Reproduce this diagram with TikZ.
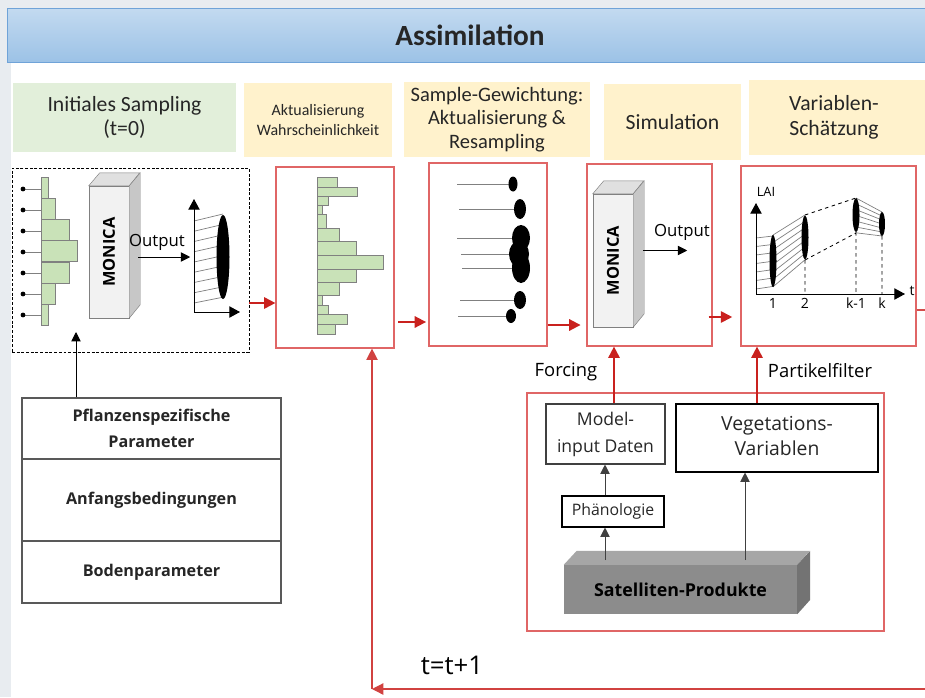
\documentclass[tikz,border=0pt]{standalone}
\usepackage{fontspec}
\setmainfont{Open Sans}
\newfontfamily\cali{Carlito}
\usetikzlibrary{arrows.meta,positioning,calc,fit}
\definecolor{hgrau}{HTML}{E8ECF0}
\definecolor{bandoben}{HTML}{C3DAF0}
\definecolor{bandunten}{HTML}{9CC2E6}
\definecolor{bandrand}{HTML}{6FA3D8}
\definecolor{kopfgruen}{HTML}{E2EFDA}
\definecolor{kopfgelb}{HTML}{FFF2CC}
\definecolor{histgruen}{HTML}{C9E2B8}
\definecolor{rahmenrot}{HTML}{E06666}
\definecolor{pfeilrot}{HTML}{C9211E}
\definecolor{strich}{HTML}{808080}
\newcommand{\fs}[2]{\fontsize{#1}{#2}\selectfont}
\tikzset{
  kopf/.style={rectangle, fill=#1, inner sep=0pt},
  panel/.style={rectangle, draw=rahmenrot, line width=1pt, inner sep=0pt},
  kasten/.style={rectangle, draw=#1, line width=0.9pt, inner sep=0pt},
  mitte/.style={align=center, text=black!85, inner sep=0pt},
  balken/.style={draw=strich, fill=histgruen, line width=0.7pt},
  fahne/.style={draw=strich, line width=0.6pt},
  rotpfeil/.style={-{Triangle[length=3.4mm,width=3.4mm]}, line width=1.6pt, draw=pfeilrot},
  pfeil/.style={-{Triangle[length=2.8mm,width=2.8mm]}, line width=0.8pt, draw=black!75},
  achse/.style={-{Triangle[length=3.2mm,width=3.4mm]}, line width=0.8pt},
}
\begin{document}
\begin{tikzpicture}[x=0.03cm, y=-0.03cm]
  \useasboundingbox (0,0) rectangle (925,697);
  % hintergrund und titelband
  \fill[hgrau] (0,0) rectangle (925,697);
  \fill[white] (11,62) rectangle (925,697);
  \node[fit={(7,8) (925,62)}, inner sep=0pt, top color=bandoben, bottom color=bandunten,
        draw=bandrand, line width=0.6pt] (titel) {};
  \node[mitte, font={\cali\bfseries\fs{25}{30}}] (titelt) at ($(titel.center)+(4,0)$) {Assimilation};

  % kopfzeilen
  \node[kopf=kopfgruen, fit={(13,83) (236,152)}] (k1) {};
  \node[kopf=kopfgelb, fit={(244,83) (392,157)}] (k2) {};
  \node[kopf=kopfgelb, fit={(404,82) (590,157)}] (k3) {};
  \node[kopf=kopfgelb, fit={(604,84) (741,160)}] (k4) {};
  \node[kopf=kopfgelb, fit={(749,80) (925,155)}] (k5) {};
  \node[mitte, font={\cali\fs{18.5}{21}}] (k1t) at (k1.center) {Initiales Sampling\\(t=0)};
  \node[mitte, font={\cali\fs{13.6}{17}}] (k2t) at (k2.center) {Aktualisierung\\Wahrscheinlichkeit};
  \node[mitte, font={\cali\fs{17.5}{20}}] (k3t) at (k3.center) {Sample-Gewichtung:\\Aktualisierung \&\\Resampling};
  \node[mitte, font={\cali\fs{18.5}{21}}] (k4t) at (k4.center) {Simulation};
  \node[mitte, font={\cali\fs{18.5}{21.3}}] (k5t) at ($(k5.center)+(-3,0)$) {Variablen-\\Schätzung};

  % panels
  \node[fit={(12,168) (249,352)}, draw, dash pattern=on 2.5pt off 1.5pt, line width=0.8pt, inner sep=0pt] (p1) {};
  \node[panel, fit={(276,167) (394,348)}] (p2) {};
  \node[panel, fit={(429,163) (547,346)}] (p3) {};
  \node[panel, fit={(587,164) (712,346)}] (p4) {};
  \node[panel, fit={(741,166) (916,346)}] (p5) {};

  % p1: initiales sampling
  \foreach \ya/\xb in {177/48, 198/55, 219/69, 240/77, 262/69, 283/55, 304/48}
    \draw[balken] (41,\ya) rectangle (\xb,\ya+21);
  \foreach \y in {189,210,231,252,273,294,315} {
    \draw[fahne] (23,\y) -- (41,\y);
    \fill (23,\y) circle (2.4);
  }
  \node[fit={(89,186) (129,318)}, inner sep=0pt, draw=strich, fill=black!5] (mon1) {};
  \filldraw[draw=strich, fill=black!12] (mon1.north west) -- ++(11,-13) -- ++(40,0) -- (mon1.north east) -- cycle;
  \filldraw[draw=strich, fill=black!22] (mon1.north east) -- ++(11,-13) -- ++(0,132) -- (mon1.south east) -- cycle;
  \node[rotate=90, font={\bfseries\fs{14}{14}}] (mon1t) at (mon1.center) {MONICA};
  \node[font={\fs{14.3}{16}}] (aus1) at (157,242) {Output};
  \draw[pfeil, draw=black] ($(mon1.east)+(9,5)$) -- ++(52,0);
  \foreach \i in {0,...,8}
    \draw[fahne] (194,221+\i*10.25) -- (223,214+\i*10.4);
  \fill (223,257) ellipse (6.5 and 42);
  \draw[achse] (194,312) -- (194,199);
  \draw[achse] (194,312) -- (240,312);

  % p2: wahrscheinlichkeit
  \foreach \ya/\yb/\xb in {177/187/337, 187/196/357, 196/205/328, 205/214/322, 214/228/326,
      228/241/339, 241/255/356, 255/269/383, 269/282/356, 282/295/339, 295/305/322,
      305/314/328, 314/324/347, 324/334/335}
    \draw[balken] (317,\ya) rectangle (\xb,\yb);

  % p3: gewichtung
  \foreach \y/\xa/\cx in {184/457/513, 209/459/520, 238/457/521,
      254/461/519, 268/462/521, 300/460/520, 316/458/511}
    \draw[fahne] (\xa,\y) -- (\cx,\y);
  \foreach \y/\cx/\rx/\ry in {184/513/4.5/7.5, 209/520/6/10, 238/521/9/13,
      254/519/10/13, 268/521/9/15, 300/520/6/9, 316/511/5/7}
    \fill (\cx,\y) ellipse [x radius=\rx, y radius=\ry];

  % p4: simulation
  \node[fit={(593,194) (633,327)}, inner sep=0pt, draw=strich, fill=black!5] (mon2) {};
  \filldraw[draw=strich, fill=black!12] (mon2.north west) -- ++(11,-13) -- ++(40,0) -- (mon2.north east) -- cycle;
  \filldraw[draw=strich, fill=black!22] (mon2.north east) -- ++(11,-13) -- ++(0,133) -- (mon2.south east) -- cycle;
  \node[rotate=90, font={\bfseries\fs{14}{14}}] (mon2t) at (mon2.center) {MONICA};
  \node[font={\fs{14.3}{16}}] (aus2) at (682,232) {Output};
  \draw[pfeil, draw=black] ($(mon2.east)+(10,-10)$) -- ++(44,0);

  % p5: variablen-schaetzung
  \foreach \i in {0,...,6}
    \draw[fahne] (756,238+\i*8.5) -- (773,236+\i*8.4);
  \foreach \i in {0,...,7}
    \draw[fahne] (773,235+\i*7.4) -- (805,215+\i*6.4);
  \foreach \i in {0,...,6}
    \draw[fahne] (856,198+\i*5.8) -- (882,212+\i*4);
  \draw[dashed, line width=0.7pt] (805,215) -- (856,198) (805,260) -- (856,233)
    (805,260) -- (805,294) (856,232) -- (856,294) (882,236) -- (882,294);
  \fill (773,261) ellipse (3.5 and 26);
  \fill (805,237.5) ellipse (3.5 and 22);
  \fill (856,215) ellipse (3.5 and 17);
  \fill (882,224) ellipse (3 and 12);
  \draw[achse] (756,294) -- (756,203);
  \draw[achse] (756,294) -- (905,294);
  \node[font={\fs{11}{12}}] (lai) at (766,192) {LAI};
  \node[font={\fs{12}{13}}] (tachse) at (912,291) {t};
  \foreach \x/\t in {773/1, 805/2, 856/k-1, 882/k}
    \node[font={\fs{12}{13}}] at (\x,303) {\t};

  % verbindungen zwischen den panels
  \draw[rotpfeil] (p1.east |- 0,303) -- (p2.west |- 0,303);
  \draw[rotpfeil, shorten <=3pt, shorten >=2pt] (p2.east |- 0,322) -- (p3.west |- 0,322);
  \draw[rotpfeil, shorten >=5pt] (p3.east |- 0,325) -- (p4.west |- 0,325);
  \draw[rotpfeil, shorten >=7pt] ($(p4.east |- 0,317)+(-4,0)$) -- (p5.west |- 0,317);
  \coordinate (aus) at (925,310);
  \draw[draw=pfeilrot!80, line width=1pt] (p5.east |- aus) -- (aus);

  % rueckkopplung
  \coordinate (rueck) at (925,689);
  \coordinate (ecke) at (372,689);
  \draw[rotpfeil, line width=1.1pt, draw=pfeilrot!85] (rueck) -- (ecke);
  \draw[rotpfeil, line width=1.1pt, draw=pfeilrot!85] (ecke) -- (ecke |- p2.south);
  \node[font={\fs{22}{24}}] (tplus) at (452,665) {t=t+1};

  % parameter-tabelle
  \node[kasten=black!65, fit={(22,398) (281,459)}] (tab1) {};
  \node[kasten=black!65, fit={(22,459) (281,541)}] (tab2) {};
  \node[kasten=black!65, fit={(22,541) (281,603)}] (tab3) {};
  \node[mitte, font={\bfseries\fs{13.8}{22}}] (tab1t) at (tab1.center) {Pflanzenspezifische\\Parameter};
  \node[mitte, font={\bfseries\fs{13.8}{22}}] (tab2t) at (tab2.center) {Anfangsbedingungen};
  \node[mitte, font={\bfseries\fs{13.8}{22}}] (tab3t) at (tab3.center) {Bodenparameter};
  \coordinate (p1ein) at (76,332);
  \draw[pfeil, draw=black] (p1ein |- tab1.north) -- (p1ein);

  % satellitendaten
  \node[panel, fit={(527,393) (884,631)}] (quelle) {};
  \node[kasten=black!75, fit={(546,404) (665,464)}] (modell) {};
  \node[kasten=black, fit={(676,404) (878,472)}] (veg) {};
  \node[kasten=black, fit={(562,496) (664,527)}] (phaen) {};
  \node[mitte, font={\fs{15}{23}}] (modellt) at (modell.center) {Model-\\input Daten};
  \node[mitte, font={\fs{16.5}{22}}] (vegt) at ($(veg.center)+(0,-2)$) {Vegetations-\\Variablen};
  \node[mitte, font={\fs{13.5}{15}}] (phaent) at (phaen.center) {Phänologie};
  \node[fit={(564,565) (797,614)}, inner sep=0pt, fill=black!45] (satp) {};
  \fill[black!35] (satp.north west) -- ++(13,-14) -- ++(233,0) -- (satp.north east) -- cycle;
  \fill[black!55] (satp.north east) -- ++(13,-14) -- ++(0,49) -- (satp.south east) -- cycle;
  \node[mitte, text=black, font={\bfseries\fs{15.2}{17}}] (satpt) at (satp.center) {Satelliten-Produkte};
  \draw[pfeil] (605,560) -- (phaen.south -| 605,0);
  \draw[pfeil] (phaen.north -| 605,0) -- (modell.south -| 605,0);
  \draw[pfeil] (745,560) -- (veg.south -| 745,0);
  \draw[rotpfeil] (modell.north -| 614,0) -- (p4.south -| 614,0);
  \draw[rotpfeil] (veg.north -| 757,0) -- (p5.south -| 757,0);
  \node[font={\fs{15.7}{17}}] (forcing) at (566,372) {Forcing};
  \node[font={\fs{15.7}{17}}] (pfilter) at (820,371) {Partikelfilter};
\end{tikzpicture}
\end{document}
